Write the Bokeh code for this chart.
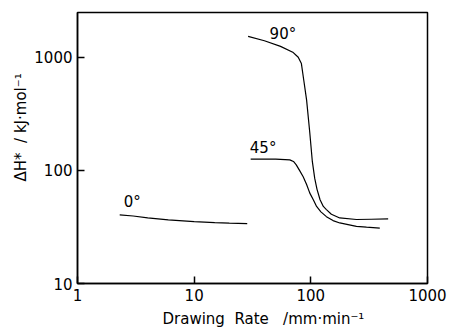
from bokeh.plotting import figure
from bokeh.models import FixedTicker, NumeralTickFormatter, Label, Range1d, Title
from bokeh.embed import file_html
from bokeh.resources import INLINE

# --- data ---
x_ticks = [1, 10, 100, 1000]
y_ticks = [10, 100, 1000]

x0 = [2.3, 3, 4, 6, 10, 15, 20, 28.5]
y0 = [40.5, 39.5, 38, 36.5, 35.2, 34.6, 34.2, 33.8]

x90 = [29, 40, 55, 70, 78, 83, 87, 92, 98, 103, 108, 113, 120, 128, 136, 150, 177, 246, 330, 460]
y90 = [1530, 1400, 1250, 1110, 1000, 880, 627, 418, 214, 120, 85, 68, 55, 48, 45, 41, 38, 36.8, 37, 37.2]

x45 = [30.5, 50, 66, 71, 75, 80, 86, 92, 98, 105, 112, 122, 136, 155, 177, 246, 300, 390]
y45 = [126, 126, 124, 120, 112, 100, 88, 75, 63, 55, 48, 43, 39, 36, 34.3, 32, 31.5, 30.9]

curve_labels = ["0°", "45°", "90°"]
label_x = [2.95, 39, 57.6]
label_y = [52.7, 158, 1622]

NB = "\u00a0"
x_title = "Drawing" + NB * 2 + "Rate" + NB * 3 + "/mm·min⁻¹"
y_title = "ΔH*" + NB * 2 + "/" + NB + "kJ·mol⁻¹"

FONT = "DejaVu Sans"

p = figure(width=450, height=331, x_axis_type="log", y_axis_type="log",
           x_range=Range1d(1, 1000), y_range=Range1d(10, 2490),
           output_backend="svg", toolbar_location=None,
           min_border_left=77, min_border_right=23, min_border_top=12, min_border_bottom=47)

p.grid.visible = False
p.outline_line_color = "black"
p.outline_line_width = 1.5

for ax, ticks in ((p.xaxis[0], x_ticks), (p.yaxis[0], y_ticks)):
    ax.ticker = FixedTicker(ticks=ticks, minor_ticks=[])
    ax.formatter = NumeralTickFormatter(format="0")
    ax.major_tick_in = 7
    ax.major_tick_out = 0
    ax.minor_tick_line_color = None
    ax.axis_line_width = 1.5
    ax.major_tick_line_width = 1.5
    ax.major_label_text_font = FONT
    ax.major_label_text_font_size = "15px"
    ax.major_label_text_color = "black"
    ax.axis_line_color = "black"
    ax.major_tick_line_color = "black"

p.xaxis[0].major_label_standoff = 5
p.yaxis[0].major_label_standoff = 5

for xs, ys in ((x0, y0), (x45, y45), (x90, y90)):
    p.line(xs, ys, line_color="black", line_width=1.2)

for t, lx, ly in zip(curve_labels, label_x, label_y):
    p.add_layout(Label(x=lx, y=ly, text=t, text_align="center", text_baseline="middle",
                       text_font=FONT, text_font_size="15px", text_color="black"))

# axis titles as side titles so they can be offset like the original
p.add_layout(Title(text=x_title, align="left", offset=85, text_font=FONT,
                   text_font_size="15px", text_font_style="normal", text_color="black",
                   standoff=8), "below")
p.add_layout(Title(text=y_title, align="left", offset=102, text_font=FONT,
                   text_font_size="15px", text_font_style="normal", text_color="black",
                   standoff=4), "left")

open("out.html", "w").write(file_html(p, INLINE))
